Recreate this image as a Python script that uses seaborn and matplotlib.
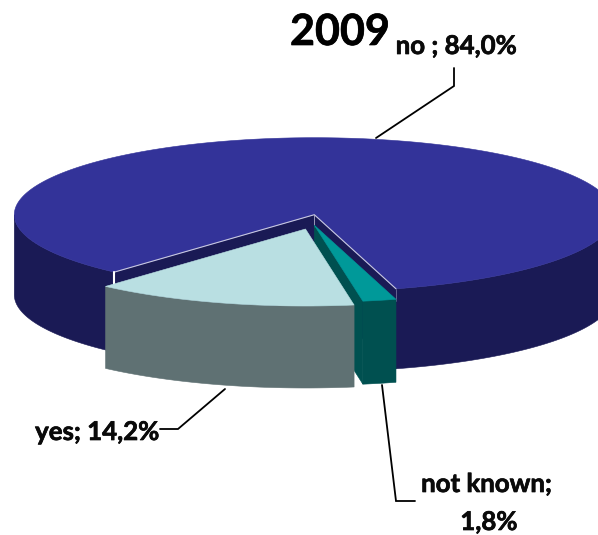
import numpy as np
import matplotlib
matplotlib.use("Agg")
import matplotlib.pyplot as plt
import matplotlib.patheffects as pe
import seaborn as sns

# Data
categories = ["no", "not known", "yes"]
shares = [84.0, 1.8, 14.2]
label_texts = ["no ; 84,0%", "not known;\n1,8%", "yes; 14,2%"]
title_text = "2009"

top_colors = ["#333399", "#009999", "#B9DFE2"]
side_colors = ["#1A1A55", "#005050", "#5F7173"]

sns.set_theme(style="white")
plt.rcParams["font.family"] = ["Lato", "DejaVu Sans"]

# Projection of the 3D pie in image pixels
CX, CY, RX, RY, START = 314.3, 214.7, 300.0, 77.0, -74.2
offsets = {"no": (0, 0), "not known": (0, 10.5), "yes": (-8.8, 14.3)}
depths = {"no": 80, "not known": 83, "yes": 82}

fig = plt.figure(figsize=(5.98, 5.35), dpi=100)
ax = fig.add_axes([0, 0, 1, 1])
ax.set_xlim(0, 598)
ax.set_ylim(535, 0)
ax.axis("off")


def rim(t0, t1, dx, dy, drop=0.0):
    t = np.radians(np.linspace(t0, t1, max(2, int(abs(t1 - t0) * 2))))
    return CX + dx + RX * np.cos(t), CY + dy - RY * np.sin(t) + drop


def fill_poly(x, y, color, z, **kw):
    ax.fill(x, y, color=color, lw=0.4, zorder=z, **kw)


# Slice angles: "no" runs counter-clockwise, the others clockwise behind it
sweeps = [s * 3.6 for s in shares]
no_a0, no_a1 = START, START + sweeps[0]
nk_a0, nk_a1 = START, START - sweeps[1]
ye_a0, ye_a1 = nk_a1, nk_a1 - sweeps[2]

# --- "no" slice ---
dep = depths["no"]
# inner walls
xr, yr = rim(no_a0, no_a0, 0, 0)
fill_poly([CX, xr[0], xr[0], CX], [CY, yr[0], yr[0] + dep, CY + dep], side_colors[0], 1)
xl, yl = rim(no_a1, no_a1, 0, 0)
fill_poly([CX, xl[0], xl[0], CX], [CY, yl[0], yl[0] + dep, CY + dep], side_colors[0], 1)
# outer side (visible front parts)
for a, b in [(no_a0, 0), (180, no_a1)]:
    x1, y1 = rim(a, b, 0, 0)
    x2, y2 = rim(b, a, 0, 0, dep)
    fill_poly(np.r_[x1, x2], np.r_[y1, y2], side_colors[0], 2)
# top
xa, ya = rim(no_a0, no_a1, 0, 0)
fill_poly(np.r_[CX, xa], np.r_[CY, ya], top_colors[0], 3)
# pale hairlines along the cut edges
ax.plot([xl[0], CX, xr[0]], [yl[0], CY, yr[0]], color="#C8C8E0", lw=0.8, zorder=4)
ax.plot([CX, CX], [CY, CY + 12], color="#C8C8E0", lw=0.5, zorder=4)
ax.plot([xr[0], xr[0]], [yr[0], yr[0] + 12], color="#8080A8", lw=0.5, zorder=4)
ax.plot([xl[0], xl[0]], [yl[0], yl[0] + 12], color="white", lw=1.5, zorder=4)

# --- "not known" slice ---
dx, dy = offsets["not known"]
dep = depths["not known"]
ax_c, ay_c = CX + dx, CY + dy
xe, ye = rim(nk_a1, nk_a1, dx, dy)
fill_poly([ax_c, xe[0], xe[0], ax_c], [ay_c, ye[0], ye[0] + dep, ay_c + dep], side_colors[1], 5)
x1, y1 = rim(nk_a0, nk_a1, dx, dy)
x2, y2 = rim(nk_a1, nk_a0, dx, dy, dep)
fill_poly(np.r_[x1, x2], np.r_[y1, y2], side_colors[1], 6)
fill_poly(np.r_[ax_c, x1], np.r_[ay_c, y1], top_colors[1], 7)

# --- "yes" slice ---
dx, dy = offsets["yes"]
dep = depths["yes"]
ax_c, ay_c = CX + dx, CY + dy
x1, y1 = rim(ye_a0, ye_a1, dx, dy)
x2, y2 = rim(ye_a1, ye_a0, dx, dy, dep)
fill_poly(np.r_[x1, x2], np.r_[y1, y2], side_colors[2], 8)
fill_poly(np.r_[ax_c, x1], np.r_[ay_c, y1], top_colors[2], 9)

# Leader lines
line_kw = dict(color="black", lw=1.3, zorder=10, solid_joinstyle="miter")
ax.plot([376, 454, 454], [138, 86, 68], **line_kw)
ax.plot([225, 178, 160], [389, 429, 429], **line_kw)
ax.plot([382, 396, 415], [385, 501, 501], **line_kw)

# Text
heavy = [pe.withStroke(linewidth=0.5, foreground="#0A0A0A")]
ax.text(340, 32, title_text, fontsize=31, fontweight="bold", ha="center", va="center",
        color="black", path_effects=heavy)
text_kw = dict(fontsize=18.6, fontweight="bold", color="#0A0A0A", ha="center", va="center",
               path_effects=heavy)
ax.text(456.5, 46, label_texts[0], **text_kw)
l1, l2 = label_texts[1].split("\n")
ax.text(487, 484, l1, **text_kw)
ax.text(489, 522, l2, **text_kw)
ax.text(97.5, 432, label_texts[2], **text_kw)

fig.savefig("out.png", dpi=100)
